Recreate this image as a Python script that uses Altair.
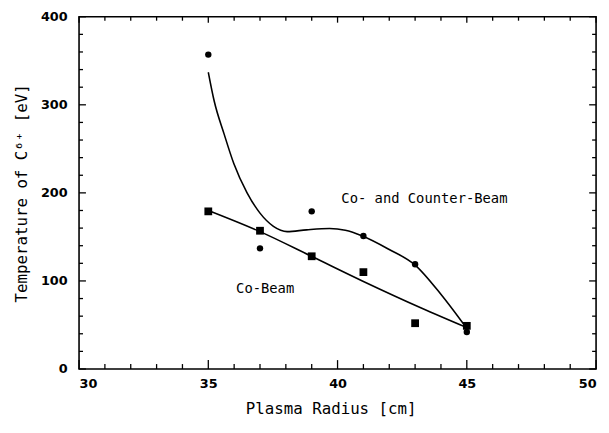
import altair as alt
import pandas as pd

# --- data ---
radius = [35, 37, 39, 41, 43, 45]
temp_counter = [357, 137, 179, 151, 119, 42]   # Co- and Counter-Beam (circles)
temp_co = [179, 157, 128, 110, 52, 49]         # Co-Beam (squares)

# fitted curves as drawn
fit_counter_x = [35.0, 35.23, 35.61, 35.99, 36.5, 37.0, 37.52, 38.05, 38.8, 39.69, 40.3, 40.96, 41.98, 43.0, 44.02, 45.0]
fit_counter_y = [337, 304, 267, 233, 200, 177, 162, 156, 158, 159.5, 157.5, 151, 136, 118, 84, 46]
fit_co_x = [35.0, 37.0, 38.99, 40.96, 43.26, 45.0]
fit_co_y = [180, 156, 128, 100, 69, 47]

label_text = ["Co- and Counter-Beam", "Co-Beam"]
label_x = [43.36, 37.2]
label_y = [193, 91]

x_major = [30, 35, 40, 45, 50]
x_minor = [31, 32, 33, 34, 36, 37, 38, 39, 41, 42, 43, 44, 46, 47, 48, 49]
y_major = [0, 100, 200, 300, 400]
y_minor = [20, 40, 60, 80, 120, 140, 160, 180, 220, 240, 260, 280, 320, 340, 360, 380]

W, H = 524, 357

pts_counter = pd.DataFrame({"x": radius, "y": temp_counter})
pts_co = pd.DataFrame({"x": radius, "y": temp_co})
fit_counter = pd.DataFrame({"x": fit_counter_x, "y": fit_counter_y})
fit_co = pd.DataFrame({"x": fit_co_x, "y": fit_co_y})
labels = pd.DataFrame({"x": label_x, "y": label_y, "t": label_text})

xs = alt.Scale(domain=[30, 50], nice=False, zero=False)
ys = alt.Scale(domain=[0, 400], nice=False)

common = dict(ticks=False, domain=False, grid=False,
              labelFont="DejaVu Sans", labelFontWeight="bold", labelFontSize=13, labelColor="black",
              titleFont="DejaVu Sans Mono", titleFontWeight="normal", titleFontSize=16, titleColor="black")

ax_x = alt.Axis(values=x_major, title="Plasma Radius [cm]", labelPadding=9, titleX=255, titleY=40,
                titleAlign="center", titleBaseline="middle", **common)
ax_y = alt.Axis(values=y_major, title="Temperature of C⁶⁺ [eV]", labelPadding=12, titleX=-58, titleY=H / 2,
                titleAngle=-90, titleBaseline="middle", titleAlign="center", **common)

X = alt.X("x:Q", scale=xs, axis=ax_x)
Y = alt.Y("y:Q", scale=ys, axis=ax_y)

line_counter = alt.Chart(fit_counter).mark_line(interpolate="monotone", color="black", strokeWidth=1.6).encode(x=X, y=Y)
line_co = alt.Chart(fit_co).mark_line(interpolate="monotone", color="black", strokeWidth=1.6).encode(x=X, y=Y)
dots = alt.Chart(pts_counter).mark_point(shape="circle", filled=True, size=42, color="black", opacity=1).encode(x=X, y=Y)
squares = alt.Chart(pts_co).mark_point(shape="square", filled=True, size=62, color="black", opacity=1).encode(x=X, y=Y)
texts = alt.Chart(labels).mark_text(font="DejaVu Sans Mono", fontSize=14, color="black", align="center",
                                    baseline="middle").encode(x=X, y=Y, text="t:N")


def xticks(vals, y0, y1):
    return alt.Chart(pd.DataFrame({"x": vals})).mark_rule(color="black", strokeWidth=1.3).encode(
        x=X, y=alt.value(y0), y2=alt.value(y1))


def yticks(vals, x0, x1):
    return alt.Chart(pd.DataFrame({"y": vals})).mark_rule(color="black", strokeWidth=1.3).encode(
        y=Y, x=alt.value(x0), x2=alt.value(x1))


tick_layers = [
    xticks(x_major, H, H - 9), xticks(x_minor, H, H - 5),
    xticks(x_major, 0, 6), xticks(x_minor, 0, 4),
    yticks(y_major, 0, 7), yticks(y_minor, 0, 4),
    yticks(y_major, W, W - 7), yticks(y_minor, W, W - 4),
]

chart = alt.layer(line_counter, line_co, *tick_layers, dots, squares, texts).properties(
    width=W, height=H, background="white",
    autosize=alt.AutoSizeParams(type="none"),
    padding={"left": 72, "top": 6, "right": 5, "bottom": 62}
).configure_view(stroke="black", strokeWidth=1.6)

chart.save("out.html", embed_options={"renderer": "svg", "actions": False})
